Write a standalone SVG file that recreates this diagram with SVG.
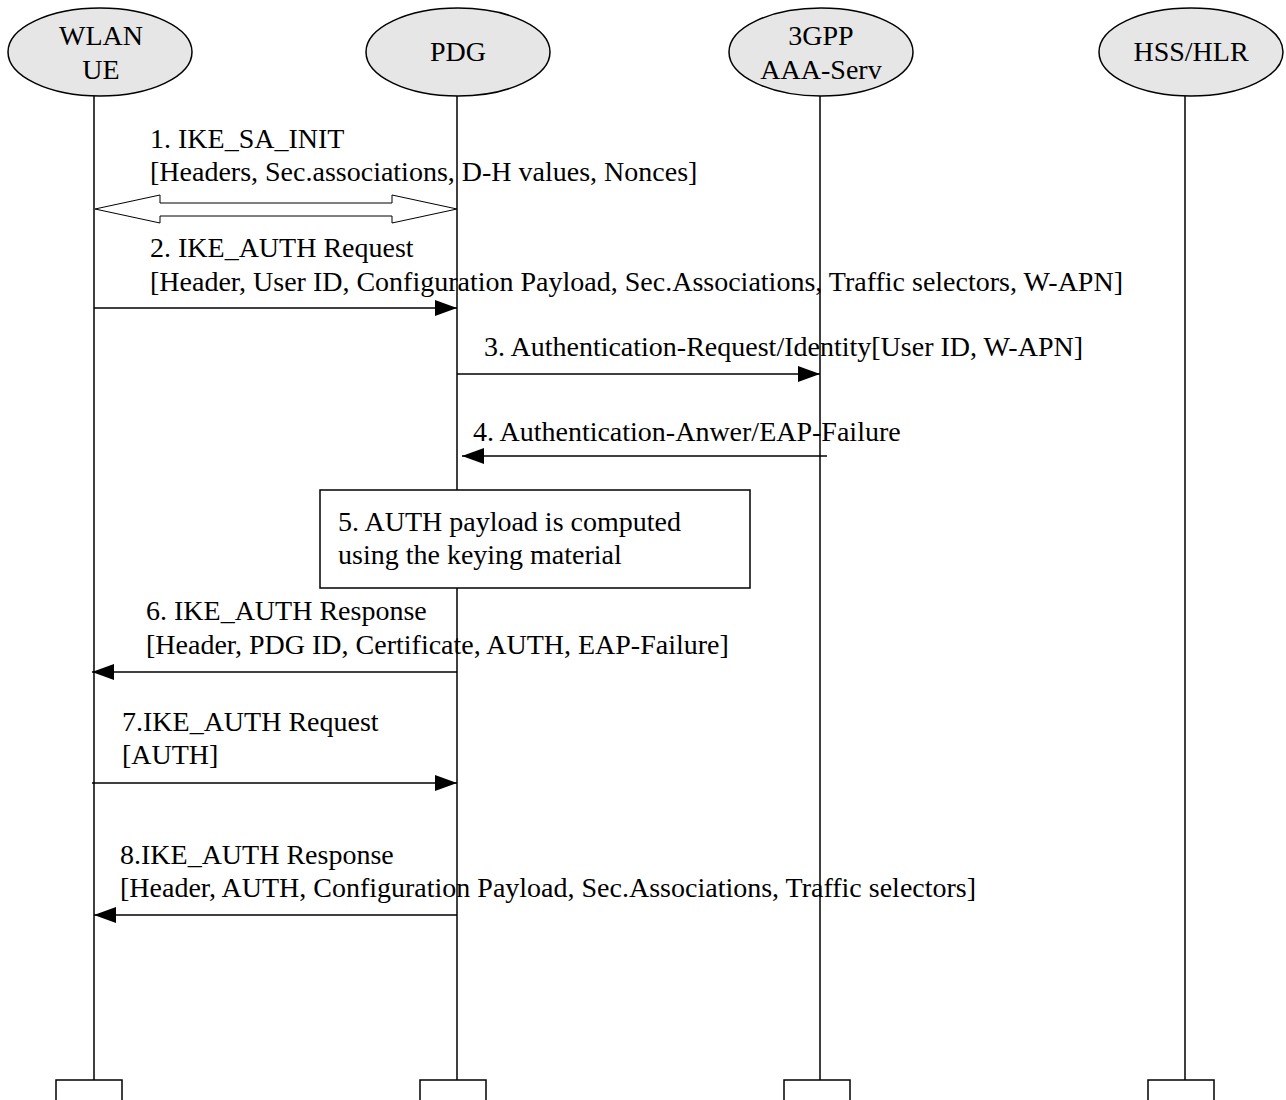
<svg xmlns="http://www.w3.org/2000/svg" width="1286" height="1100" viewBox="0 0 1286 1100">
<style>
text{font-family:"Liberation Serif","Times New Roman",serif;font-size:28px;fill:#000}
.actor{fill:#e6e6e6;stroke:#000;stroke-width:1.5}
.life{stroke:#000;stroke-width:1.5;fill:none}
.msg{stroke:#000;stroke-width:1.5;fill:none}
.box{fill:#fff;stroke:#000;stroke-width:1.5}
.dbl{fill:#fff;stroke:#000;stroke-width:1}
</style>
<defs>
<marker id="ah" markerWidth="22" markerHeight="16" refX="22" refY="8" orient="auto" markerUnits="userSpaceOnUse">
<path d="M0,0 L22,8 L0,16 Z" fill="#000"/>
</marker>
</defs>
<g id="lifelines">
<line class="life" x1="94" y1="96" x2="94" y2="1080"/>
<line class="life" x1="457" y1="96" x2="457" y2="1080"/>
<line class="life" x1="820" y1="96" x2="820" y2="1080"/>
<line class="life" x1="1185" y1="96" x2="1185" y2="1080"/>
</g>
<g id="wlan-ue">
<ellipse class="actor" cx="100" cy="52" rx="92" ry="44"/>
<text x="101" y="45" text-anchor="middle">WLAN</text>
<text x="101" y="79" text-anchor="middle">UE</text>
<rect class="box" x="56" y="1080" width="66" height="24"/>
</g>
<g id="pdg">
<ellipse class="actor" cx="458" cy="52" rx="92" ry="44"/>
<text x="458" y="61" text-anchor="middle">PDG</text>
<rect class="box" x="420" y="1080" width="66" height="24"/>
</g>
<g id="aaa">
<ellipse class="actor" cx="821" cy="52" rx="92" ry="44"/>
<text x="821" y="45" text-anchor="middle">3GPP</text>
<text x="821" y="79" text-anchor="middle">AAA-Serv</text>
<rect class="box" x="784" y="1080" width="66" height="24"/>
</g>
<g id="hss">
<ellipse class="actor" cx="1191" cy="52" rx="92" ry="44"/>
<text x="1191" y="61" text-anchor="middle">HSS/HLR</text>
<rect class="box" x="1148" y="1080" width="66" height="24"/>
</g>
<g id="step5">
<rect class="box" x="320" y="490" width="430" height="98"/>
<text x="338" y="531">5. AUTH payload is computed</text>
<text x="338" y="564">using the keying material</text>
</g>
<g id="connectors">
<path class="dbl" d="M95,209 L160,195 L160,203 L392,203 L392,195 L457,209 L392,223 L392,216 L160,216 L160,223 Z"/>
<line class="msg" x1="94" y1="308" x2="457" y2="308" marker-end="url(#ah)"/>
<line class="msg" x1="457" y1="374" x2="820" y2="374" marker-end="url(#ah)"/>
<line class="msg" x1="827" y1="456" x2="462" y2="456" marker-end="url(#ah)"/>
<line class="msg" x1="457" y1="672" x2="92" y2="672" marker-end="url(#ah)"/>
<line class="msg" x1="92" y1="783" x2="457" y2="783" marker-end="url(#ah)"/>
<line class="msg" x1="457" y1="915" x2="94" y2="915" marker-end="url(#ah)"/>
</g>
<g id="labels">
<text x="150" y="148">1. IKE_SA_INIT</text>
<text x="150" y="181">[Headers, Sec.associations, D-H values, Nonces]</text>
<text x="150" y="257">2. IKE_AUTH Request</text>
<text x="150" y="291">[Header, User ID, Configuration Payload, Sec.Associations, Traffic selectors, W-APN]</text>
<text x="484" y="356">3. Authentication-Request/Identity[User ID, W-APN]</text>
<text x="473" y="441">4. Authentication-Anwer/EAP-Failure</text>
<text x="146" y="620">6. IKE_AUTH Response</text>
<text x="146" y="654">[Header, PDG ID, Certificate, AUTH, EAP-Failure]</text>
<text x="122" y="731">7.IKE_AUTH Request</text>
<text x="122" y="764">[AUTH]</text>
<text x="120" y="864">8.IKE_AUTH Response</text>
<text x="120" y="897">[Header, AUTH, Configuration Payload, Sec.Associations, Traffic selectors]</text>
</g>
</svg>
